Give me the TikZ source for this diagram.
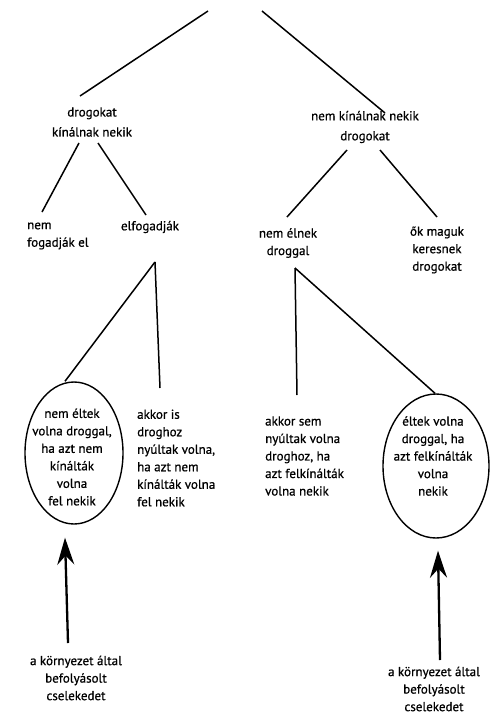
\documentclass[tikz,border=0pt]{standalone}
\usepackage{fontspec}
\setmainfont{PT Sans}
\newfontfamily\dfont[FakeBold=0.7]{PT Sans}
\usetikzlibrary{shapes.geometric,arrows.meta}
\begin{document}
\begin{tikzpicture}[x=1pt,y=-1pt,
  txt/.style={inner sep=0pt,align=center,font=\dfont\fontsize{13}{17.5}\selectfont},
  txtw/.style={inner sep=0pt,align=left,anchor=west,font=\dfont\fontsize{13}{17.5}\selectfont},
  txtt/.style={inner sep=0pt,align=center,font=\dfont\fontsize{13}{20}\selectfont},
  oval/.style={draw,ellipse,line width=1.4pt,inner sep=0pt},
  edge/.style={line width=1.5pt},
  up/.style={line width=2.3pt,-{Stealth[length=27pt,width=17pt,inset=9pt]}}]
\useasboundingbox[fill=white] (0,0) rectangle (491,715);
\coordinate (topL) at (208,11);
\coordinate (topR) at (262,11);
\node[txtt] (dk) at (92,122) {drogokat\\kínálnak nekik};
\node[txtt] (nk) at (365,127) {nem kínálnak nekik\\drogokat};
\node[txtw] (nf) at (27,236) {nem\\fogadják el};
\node[txt] (el) at (150,227) {elfogadják};
\node[txt] (ne) at (288,243) {nem élnek\\droggal};
\node[txt] (om) at (437,250) {ők maguk\\keresnek\\drogokat};
\node[oval,minimum width=98pt,minimum height=142pt] (e1) at (74,453) {};
\node[txt] (t1) at (72,457) {nem éltek\\volna droggal,\\ha azt nem\\kínálták\\volna\\fel nekik};
\node[txtw] (ai) at (137,458) {akkor is\\droghoz\\nyúltak volna,\\ha azt nem\\kínálták volna\\fel nekik};
\node[txtw] (as) at (265,456) {akkor sem\\nyúltak volna\\droghoz, ha\\azt felkínálták\\volna nekik};
\node[oval,minimum width=106pt,minimum height=144pt] (e2) at (436,466) {};
\node[txt] (t2) at (433,456) {éltek volna\\droggal, ha\\azt felkínálták\\volna\\nekik};
\node[txt] (b1) at (76,678) {a környezet által\\befolyásolt\\cselekedet};
\node[txt] (b2) at (434,689) {a környezet által\\befolyásolt\\cselekedet};
\draw[edge] (topL) -- ([xshift=-12pt,yshift=26pt]dk.center);
\draw[edge] (topR) -- ([xshift=20pt,yshift=14pt]nk.center);
\draw[edge] ([xshift=-13pt,yshift=-21pt]dk.center) -- ([xshift=15pt,yshift=24pt]nf.west);
\draw[edge] ([xshift=6pt,yshift=-21pt]dk.center) -- ([xshift=-4pt,yshift=12pt]el.center);
\draw[edge] ([xshift=-18pt,yshift=-23pt]nk.center) -- ([xshift=-1pt,yshift=26pt]ne.center);
\draw[edge] ([xshift=15pt,yshift=-23pt]nk.center) -- ([yshift=33pt]om.center);
\draw[edge] ([xshift=5pt,yshift=-35pt]el.center) -- ([xshift=-9pt]e1.north);
\draw[edge] ([xshift=5pt,yshift=-35pt]el.center) -- ([xshift=23pt,yshift=70pt]ai.west);
\draw[edge] ([xshift=7pt,yshift=-25pt]ne.center) -- ([xshift=32pt,yshift=61pt]as.west);
\draw[edge] ([xshift=7pt,yshift=-25pt]ne.center) -- ([xshift=-1pt]e2.north);
\draw[up] ([xshift=-8pt,yshift=35pt]b1.center) -- ([xshift=-9pt,yshift=-13pt]e1.south);
\draw[up] ([xshift=6pt,yshift=29pt]b2.center) -- ([xshift=2pt,yshift=-12pt]e2.south);
\end{tikzpicture}
\end{document}
